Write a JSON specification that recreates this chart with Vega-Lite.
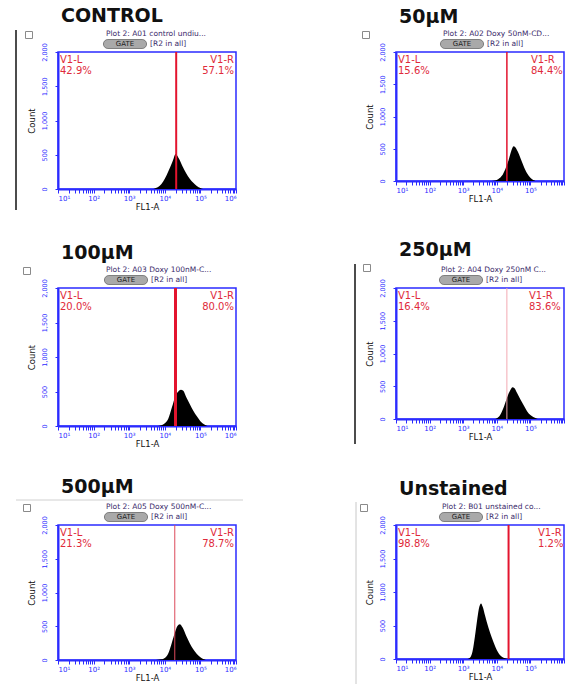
{
  "$schema": "https://vega.github.io/schema/vega-lite/v6.json",
  "padding": {"left": 14, "top": 6, "right": 0, "bottom": 0},
  "background": "white",
  "columns": 2,
  "bounds": "flush",
  "spacing": {"row": 99, "column": 160},
  "datasets": {
    "hist": [
      {"sample": "CONTROL", "fl1": 4467, "count": 0},
      {"sample": "CONTROL", "fl1": 5012, "count": 5},
      {"sample": "CONTROL", "fl1": 6310, "count": 25},
      {"sample": "CONTROL", "fl1": 7943, "count": 70},
      {"sample": "CONTROL", "fl1": 10000, "count": 150},
      {"sample": "CONTROL", "fl1": 12589, "count": 260},
      {"sample": "CONTROL", "fl1": 15849, "count": 380},
      {"sample": "CONTROL", "fl1": 17783, "count": 450},
      {"sample": "CONTROL", "fl1": 19953, "count": 510},
      {"sample": "CONTROL", "fl1": 21380, "count": 500},
      {"sample": "CONTROL", "fl1": 25119, "count": 440},
      {"sample": "CONTROL", "fl1": 31623, "count": 330},
      {"sample": "CONTROL", "fl1": 39811, "count": 230},
      {"sample": "CONTROL", "fl1": 50119, "count": 150},
      {"sample": "CONTROL", "fl1": 63096, "count": 90},
      {"sample": "CONTROL", "fl1": 79433, "count": 45},
      {"sample": "CONTROL", "fl1": 100000, "count": 15},
      {"sample": "CONTROL", "fl1": 112202, "count": 5},
      {"sample": "CONTROL", "fl1": 125893, "count": 0},
      {"sample": "50µM", "fl1": 7079, "count": 0},
      {"sample": "50µM", "fl1": 8913, "count": 8},
      {"sample": "50µM", "fl1": 11220, "count": 30},
      {"sample": "50µM", "fl1": 14125, "count": 80},
      {"sample": "50µM", "fl1": 17783, "count": 180},
      {"sample": "50µM", "fl1": 22387, "count": 320},
      {"sample": "50µM", "fl1": 26303, "count": 450},
      {"sample": "50µM", "fl1": 31623, "count": 540},
      {"sample": "50µM", "fl1": 35481, "count": 525},
      {"sample": "50µM", "fl1": 41687, "count": 460},
      {"sample": "50µM", "fl1": 50119, "count": 360},
      {"sample": "50µM", "fl1": 63096, "count": 230},
      {"sample": "50µM", "fl1": 79433, "count": 120},
      {"sample": "50µM", "fl1": 100000, "count": 50},
      {"sample": "50µM", "fl1": 125893, "count": 10},
      {"sample": "50µM", "fl1": 141254, "count": 0},
      {"sample": "100µM", "fl1": 6310, "count": 0},
      {"sample": "100µM", "fl1": 7943, "count": 10},
      {"sample": "100µM", "fl1": 10000, "count": 40},
      {"sample": "100µM", "fl1": 12589, "count": 110},
      {"sample": "100µM", "fl1": 15849, "count": 270},
      {"sample": "100µM", "fl1": 19953, "count": 440},
      {"sample": "100µM", "fl1": 23988, "count": 500},
      {"sample": "100µM", "fl1": 28184, "count": 525},
      {"sample": "100µM", "fl1": 33113, "count": 510},
      {"sample": "100µM", "fl1": 39811, "count": 420},
      {"sample": "100µM", "fl1": 50119, "count": 320},
      {"sample": "100µM", "fl1": 63096, "count": 220},
      {"sample": "100µM", "fl1": 79433, "count": 140},
      {"sample": "100µM", "fl1": 100000, "count": 70},
      {"sample": "100µM", "fl1": 125893, "count": 25},
      {"sample": "100µM", "fl1": 158489, "count": 0},
      {"sample": "250µM", "fl1": 8913, "count": 0},
      {"sample": "250µM", "fl1": 10000, "count": 10},
      {"sample": "250µM", "fl1": 12589, "count": 60},
      {"sample": "250µM", "fl1": 15849, "count": 170},
      {"sample": "250µM", "fl1": 19953, "count": 320},
      {"sample": "250µM", "fl1": 25119, "count": 440},
      {"sample": "250µM", "fl1": 29512, "count": 485},
      {"sample": "250µM", "fl1": 33113, "count": 475},
      {"sample": "250µM", "fl1": 39811, "count": 400},
      {"sample": "250µM", "fl1": 50119, "count": 300},
      {"sample": "250µM", "fl1": 63096, "count": 210},
      {"sample": "250µM", "fl1": 79433, "count": 120},
      {"sample": "250µM", "fl1": 100000, "count": 60},
      {"sample": "250µM", "fl1": 125893, "count": 25},
      {"sample": "250µM", "fl1": 158489, "count": 5},
      {"sample": "250µM", "fl1": 177828, "count": 0},
      {"sample": "500µM", "fl1": 5012, "count": 0},
      {"sample": "500µM", "fl1": 6310, "count": 5},
      {"sample": "500µM", "fl1": 7943, "count": 10},
      {"sample": "500µM", "fl1": 10000, "count": 30},
      {"sample": "500µM", "fl1": 12589, "count": 100},
      {"sample": "500µM", "fl1": 15849, "count": 260},
      {"sample": "500µM", "fl1": 19055, "count": 400},
      {"sample": "500µM", "fl1": 22387, "count": 500},
      {"sample": "500µM", "fl1": 26303, "count": 530},
      {"sample": "500µM", "fl1": 31623, "count": 480},
      {"sample": "500µM", "fl1": 39811, "count": 360},
      {"sample": "500µM", "fl1": 50119, "count": 250},
      {"sample": "500µM", "fl1": 63096, "count": 160},
      {"sample": "500µM", "fl1": 79433, "count": 90},
      {"sample": "500µM", "fl1": 100000, "count": 40},
      {"sample": "500µM", "fl1": 125893, "count": 10},
      {"sample": "500µM", "fl1": 141254, "count": 0},
      {"sample": "Unstained", "fl1": 1259, "count": 0},
      {"sample": "Unstained", "fl1": 1585, "count": 20},
      {"sample": "Unstained", "fl1": 1905, "count": 120},
      {"sample": "Unstained", "fl1": 2239, "count": 340},
      {"sample": "Unstained", "fl1": 2630, "count": 600},
      {"sample": "Unstained", "fl1": 3020, "count": 780},
      {"sample": "Unstained", "fl1": 3388, "count": 830},
      {"sample": "Unstained", "fl1": 3802, "count": 780},
      {"sample": "Unstained", "fl1": 4467, "count": 650},
      {"sample": "Unstained", "fl1": 5623, "count": 470},
      {"sample": "Unstained", "fl1": 7079, "count": 320},
      {"sample": "Unstained", "fl1": 8913, "count": 190},
      {"sample": "Unstained", "fl1": 11220, "count": 90},
      {"sample": "Unstained", "fl1": 14125, "count": 35},
      {"sample": "Unstained", "fl1": 17783, "count": 12},
      {"sample": "Unstained", "fl1": 22387, "count": 3},
      {"sample": "Unstained", "fl1": 25119, "count": 0}
    ],
    "gates": [
      {"sample": "CONTROL", "gate": 20893, "plot_name": "Plot 2: A01 control undiu...", "gate_name": "GATE", "region": "[R2 in all]", "left_text": ["V1-L", "42.9%"], "right_text": ["V1-R", "57.1%"]},
      {"sample": "50µM", "gate": 19953, "plot_name": "Plot 2: A02 Doxy 50nM-CD...", "gate_name": "GATE", "region": "[R2 in all]", "left_text": ["V1-L", "15.6%"], "right_text": ["V1-R", "84.4%"]},
      {"sample": "100µM", "gate": 19953, "plot_name": "Plot 2: A03 Doxy 100nM-C...", "gate_name": "GATE", "region": "[R2 in all]", "left_text": ["V1-L", "20.0%"], "right_text": ["V1-R", "80.0%"]},
      {"sample": "250µM", "gate": 19953, "plot_name": "Plot 2: A04 Doxy 250nM C...", "gate_name": "GATE", "region": "[R2 in all]", "left_text": ["V1-L", "16.4%"], "right_text": ["V1-R", "83.6%"]},
      {"sample": "500µM", "gate": 19055, "plot_name": "Plot 2: A05 Doxy 500nM-C...", "gate_name": "GATE", "region": "[R2 in all]", "left_text": ["V1-L", "21.3%"], "right_text": ["V1-R", "78.7%"]},
      {"sample": "Unstained", "gate": 22387, "plot_name": "Plot 2: B01 unstained co...", "gate_name": "GATE", "region": "[R2 in all]", "left_text": ["V1-L", "98.8%"], "right_text": ["V1-R", "1.2%"]}
    ]
  },
  "config": {
    "font": "DejaVu Sans",
    "view": {"stroke": "#2b2bff", "strokeWidth": 1.5},
    "axis": {"domainColor": "#2b2bff", "domainWidth": 2, "tickColor": "#2b2bff", "tickWidth": 1, "labelColor": "#2b2bff", "labelFont": "DejaVu Sans", "labelFontSize": 6.5, "titleFont": "DejaVu Sans", "titleFontSize": 8.5, "titleFontWeight": "normal", "titleColor": "#111111", "grid": false, "labelOverlap": false},
    "title": {"anchor": "start", "frame": "group", "font": "DejaVu Sans", "fontSize": 19, "fontWeight": "bold", "color": "#111111", "dx": 3, "offset": 3, "baseline": "alphabetic"}
  },
  "concat": [
    {
      "width": 178, "height": 137,
      "title": "CONTROL",
      "data": {"name": "gates"},
      "transform": [{"filter": "datum.sample === 'CONTROL'"}],
      "layer": [
        {"data": {"name": "hist"}, "transform": [{"filter": "datum.sample === 'CONTROL'"}],
         "mark": {"type": "area", "color": "#000000", "interpolate": "monotone"},
         "encoding": {
           "x": {"field": "fl1", "type": "quantitative", "scale": {"type": "log", "domain": [10, 1000000]}, "title": "FL1-A",
                 "axis": {"values": [10,20,30,40,50,60,70,80,90,100,200,300,400,500,600,700,800,900,1000,2000,3000,4000,5000,6000,7000,8000,9000,10000,20000,30000,40000,50000,60000,70000,80000,90000,100000,200000,300000,400000,500000,600000,700000,800000,900000,1000000],
                          "labelExpr": "datum.value == 10 ? '10¹' : datum.value == 100 ? '10²' : datum.value == 1000 ? '10³' : datum.value == 10000 ? '10⁴' : datum.value == 100000 ? '10⁵' : datum.value == 1000000 ? '10⁶' : ''",
                          "tickSize": 4, "labelPadding": 1, "titlePadding": 1, "labelFontSize": 7}},
           "y": {"field": "count", "type": "quantitative", "scale": {"domain": [0, 2000]}, "title": "Count",
                 "axis": {"values": [0, 500, 1000, 1500, 2000], "tickCount": 10, "format": ",d", "labelAngle": -90, "labelOverlap": false, "tickSize": 3, "labelPadding": 8, "titlePadding": 5}}
         }},
        {"mark": {"type": "rule", "color": "#e3142e", "strokeWidth": 2},
         "encoding": {"x": {"field": "gate", "type": "quantitative"}}},
        {"mark": {"type": "text", "align": "left", "baseline": "top", "dx": 2, "dy": 3, "color": "#e02a3a", "fontSize": 10, "lineHeight": 10.5},
         "encoding": {"x": {"datum": 10, "type": "quantitative"}, "y": {"datum": 2000, "type": "quantitative"}, "text": {"field": "left_text"}}},
        {"mark": {"type": "text", "align": "right", "baseline": "top", "dx": -2, "dy": 3, "color": "#e02a3a", "fontSize": 10, "lineHeight": 10.5},
         "encoding": {"x": {"datum": 1000000, "type": "quantitative"}, "y": {"datum": 2000, "type": "quantitative"}, "text": {"field": "right_text"}}},
        {"mark": {"type": "text", "align": "left", "baseline": "middle", "dx": 48, "dy": -18, "color": "#3a2a6a", "fontSize": 7.5},
         "encoding": {"x": {"datum": 10, "type": "quantitative"}, "y": {"datum": 2000, "type": "quantitative"}, "text": {"field": "plot_name"}}},
        {"mark": {"type": "point", "shape": "M -1.9 -0.5 L 1.9 -0.5 A 0.5 0.5 0 0 1 1.9 0.5 L -1.9 0.5 A 0.5 0.5 0 0 1 -1.9 -0.5 Z", "filled": true, "fill": "#a9a9a9", "stroke": "#6a6a6a", "strokeWidth": 0.8, "size": 324, "opacity": 1, "xOffset": 67, "yOffset": -8},
         "encoding": {"x": {"datum": 10, "type": "quantitative"}, "y": {"datum": 2000, "type": "quantitative"}}},
        {"mark": {"type": "text", "align": "center", "baseline": "middle", "dx": 67, "dy": -8, "color": "#222222", "fontSize": 7},
         "encoding": {"x": {"datum": 10, "type": "quantitative"}, "y": {"datum": 2000, "type": "quantitative"}, "text": {"field": "gate_name"}}},
        {"mark": {"type": "text", "align": "left", "baseline": "middle", "dx": 92, "dy": -8, "color": "#3a2a6a", "fontSize": 7.5},
         "encoding": {"x": {"datum": 10, "type": "quantitative"}, "y": {"datum": 2000, "type": "quantitative"}, "text": {"field": "region"}}},
        {"mark": {"type": "point", "shape": "square", "filled": false, "stroke": "#8a8a8a", "strokeWidth": 1, "size": 49, "opacity": 1, "xOffset": -29, "yOffset": -17},
         "encoding": {"x": {"datum": 10, "type": "quantitative"}, "y": {"datum": 2000, "type": "quantitative"}}},
        {"mark": {"type": "rule", "color": "#111111", "strokeWidth": 1.5, "xOffset": -42, "yOffset": -22, "y2Offset": 21},
         "encoding": {"x": {"datum": 10, "type": "quantitative"}, "y": {"datum": 2000, "type": "quantitative"}, "y2": {"datum": 0}}}
      ]
    },
    {
      "width": 168, "height": 129,
      "title": "50µM",
      "data": {"name": "gates"},
      "transform": [{"filter": "datum.sample === '50µM'"}],
      "layer": [
        {"data": {"name": "hist"}, "transform": [{"filter": "datum.sample === '50µM'"}],
         "mark": {"type": "area", "color": "#000000", "interpolate": "monotone"},
         "encoding": {
           "x": {"field": "fl1", "type": "quantitative", "scale": {"type": "log", "domain": [10, 1000000]}, "title": "FL1-A",
                 "axis": {"values": [10,20,30,40,50,60,70,80,90,100,200,300,400,500,600,700,800,900,1000,2000,3000,4000,5000,6000,7000,8000,9000,10000,20000,30000,40000,50000,60000,70000,80000,90000,100000,200000,300000,400000,500000,600000,700000,800000,900000,1000000],
                          "labelExpr": "datum.value == 10 ? '10¹' : datum.value == 100 ? '10²' : datum.value == 1000 ? '10³' : datum.value == 10000 ? '10⁴' : datum.value == 100000 ? '10⁵' : ''",
                          "tickSize": 4, "labelPadding": 1, "titlePadding": 1, "labelFontSize": 7}},
           "y": {"field": "count", "type": "quantitative", "scale": {"domain": [0, 2000]}, "title": "Count",
                 "axis": {"values": [0, 500, 1000, 1500, 2000], "tickCount": 10, "format": ",d", "labelAngle": -90, "labelOverlap": false, "tickSize": 3, "labelPadding": 8, "titlePadding": 5}}
         }},
        {"mark": {"type": "rule", "color": "#e3142e", "strokeWidth": 1.5},
         "encoding": {"x": {"field": "gate", "type": "quantitative"}}},
        {"mark": {"type": "text", "align": "left", "baseline": "top", "dx": 2, "dy": 3, "color": "#e02a3a", "fontSize": 10, "lineHeight": 10.5},
         "encoding": {"x": {"datum": 10, "type": "quantitative"}, "y": {"datum": 2000, "type": "quantitative"}, "text": {"field": "left_text"}}},
        {"mark": {"type": "text", "align": "left", "baseline": "top", "dx": -33, "dy": 3, "color": "#e02a3a", "fontSize": 10, "lineHeight": 10.5},
         "encoding": {"x": {"datum": 1000000, "type": "quantitative"}, "y": {"datum": 2000, "type": "quantitative"}, "text": {"field": "right_text"}}},
        {"mark": {"type": "text", "align": "left", "baseline": "middle", "dx": 47, "dy": -18, "color": "#3a2a6a", "fontSize": 7.5},
         "encoding": {"x": {"datum": 10, "type": "quantitative"}, "y": {"datum": 2000, "type": "quantitative"}, "text": {"field": "plot_name"}}},
        {"mark": {"type": "point", "shape": "M -1.9 -0.5 L 1.9 -0.5 A 0.5 0.5 0 0 1 1.9 0.5 L -1.9 0.5 A 0.5 0.5 0 0 1 -1.9 -0.5 Z", "filled": true, "fill": "#a9a9a9", "stroke": "#6a6a6a", "strokeWidth": 0.8, "size": 324, "opacity": 1, "xOffset": 66, "yOffset": -8},
         "encoding": {"x": {"datum": 10, "type": "quantitative"}, "y": {"datum": 2000, "type": "quantitative"}}},
        {"mark": {"type": "text", "align": "center", "baseline": "middle", "dx": 66, "dy": -8, "color": "#222222", "fontSize": 7},
         "encoding": {"x": {"datum": 10, "type": "quantitative"}, "y": {"datum": 2000, "type": "quantitative"}, "text": {"field": "gate_name"}}},
        {"mark": {"type": "text", "align": "left", "baseline": "middle", "dx": 91, "dy": -8, "color": "#3a2a6a", "fontSize": 7.5},
         "encoding": {"x": {"datum": 10, "type": "quantitative"}, "y": {"datum": 2000, "type": "quantitative"}, "text": {"field": "region"}}},
        {"mark": {"type": "point", "shape": "square", "filled": false, "stroke": "#8a8a8a", "strokeWidth": 1, "size": 49, "opacity": 1, "xOffset": -30, "yOffset": -17},
         "encoding": {"x": {"datum": 10, "type": "quantitative"}, "y": {"datum": 2000, "type": "quantitative"}}}
      ]
    },
    {
      "width": 178, "height": 138,
      "title": "100µM",
      "data": {"name": "gates"},
      "transform": [{"filter": "datum.sample === '100µM'"}],
      "layer": [
        {"data": {"name": "hist"}, "transform": [{"filter": "datum.sample === '100µM'"}],
         "mark": {"type": "area", "color": "#000000", "interpolate": "monotone"},
         "encoding": {
           "x": {"field": "fl1", "type": "quantitative", "scale": {"type": "log", "domain": [10, 1000000]}, "title": "FL1-A",
                 "axis": {"values": [10,20,30,40,50,60,70,80,90,100,200,300,400,500,600,700,800,900,1000,2000,3000,4000,5000,6000,7000,8000,9000,10000,20000,30000,40000,50000,60000,70000,80000,90000,100000,200000,300000,400000,500000,600000,700000,800000,900000,1000000],
                          "labelExpr": "datum.value == 10 ? '10¹' : datum.value == 100 ? '10²' : datum.value == 1000 ? '10³' : datum.value == 10000 ? '10⁴' : datum.value == 100000 ? '10⁵' : datum.value == 1000000 ? '10⁶' : ''",
                          "tickSize": 4, "labelPadding": 1, "titlePadding": 1, "labelFontSize": 7}},
           "y": {"field": "count", "type": "quantitative", "scale": {"domain": [0, 2000]}, "title": "Count",
                 "axis": {"values": [0, 500, 1000, 1500, 2000], "tickCount": 10, "format": ",d", "labelAngle": -90, "labelOverlap": false, "tickSize": 3, "labelPadding": 8, "titlePadding": 5}}
         }},
        {"mark": {"type": "rule", "color": "#e3142e", "strokeWidth": 3},
         "encoding": {"x": {"field": "gate", "type": "quantitative"}}},
        {"mark": {"type": "text", "align": "left", "baseline": "top", "dx": 2, "dy": 3, "color": "#e02a3a", "fontSize": 10, "lineHeight": 10.5},
         "encoding": {"x": {"datum": 10, "type": "quantitative"}, "y": {"datum": 2000, "type": "quantitative"}, "text": {"field": "left_text"}}},
        {"mark": {"type": "text", "align": "right", "baseline": "top", "dx": -2, "dy": 3, "color": "#e02a3a", "fontSize": 10, "lineHeight": 10.5},
         "encoding": {"x": {"datum": 1000000, "type": "quantitative"}, "y": {"datum": 2000, "type": "quantitative"}, "text": {"field": "right_text"}}},
        {"mark": {"type": "text", "align": "left", "baseline": "middle", "dx": 48, "dy": -18, "color": "#3a2a6a", "fontSize": 7.5},
         "encoding": {"x": {"datum": 10, "type": "quantitative"}, "y": {"datum": 2000, "type": "quantitative"}, "text": {"field": "plot_name"}}},
        {"mark": {"type": "point", "shape": "M -1.9 -0.5 L 1.9 -0.5 A 0.5 0.5 0 0 1 1.9 0.5 L -1.9 0.5 A 0.5 0.5 0 0 1 -1.9 -0.5 Z", "filled": true, "fill": "#a9a9a9", "stroke": "#6a6a6a", "strokeWidth": 0.8, "size": 324, "opacity": 1, "xOffset": 68, "yOffset": -8},
         "encoding": {"x": {"datum": 10, "type": "quantitative"}, "y": {"datum": 2000, "type": "quantitative"}}},
        {"mark": {"type": "text", "align": "center", "baseline": "middle", "dx": 68, "dy": -8, "color": "#222222", "fontSize": 7},
         "encoding": {"x": {"datum": 10, "type": "quantitative"}, "y": {"datum": 2000, "type": "quantitative"}, "text": {"field": "gate_name"}}},
        {"mark": {"type": "text", "align": "left", "baseline": "middle", "dx": 93, "dy": -8, "color": "#3a2a6a", "fontSize": 7.5},
         "encoding": {"x": {"datum": 10, "type": "quantitative"}, "y": {"datum": 2000, "type": "quantitative"}, "text": {"field": "region"}}},
        {"mark": {"type": "point", "shape": "square", "filled": false, "stroke": "#8a8a8a", "strokeWidth": 1, "size": 49, "opacity": 1, "xOffset": -31, "yOffset": -17},
         "encoding": {"x": {"datum": 10, "type": "quantitative"}, "y": {"datum": 2000, "type": "quantitative"}}}
      ]
    },
    {
      "width": 168, "height": 131,
      "title": "250µM",
      "data": {"name": "gates"},
      "transform": [{"filter": "datum.sample === '250µM'"}],
      "layer": [
        {"data": {"name": "hist"}, "transform": [{"filter": "datum.sample === '250µM'"}],
         "mark": {"type": "area", "color": "#000000", "interpolate": "monotone"},
         "encoding": {
           "x": {"field": "fl1", "type": "quantitative", "scale": {"type": "log", "domain": [10, 1000000]}, "title": "FL1-A",
                 "axis": {"values": [10,20,30,40,50,60,70,80,90,100,200,300,400,500,600,700,800,900,1000,2000,3000,4000,5000,6000,7000,8000,9000,10000,20000,30000,40000,50000,60000,70000,80000,90000,100000,200000,300000,400000,500000,600000,700000,800000,900000,1000000],
                          "labelExpr": "datum.value == 10 ? '10¹' : datum.value == 100 ? '10²' : datum.value == 1000 ? '10³' : datum.value == 10000 ? '10⁴' : datum.value == 100000 ? '10⁵' : ''",
                          "tickSize": 4, "labelPadding": 1, "titlePadding": 1, "labelFontSize": 7}},
           "y": {"field": "count", "type": "quantitative", "scale": {"domain": [0, 2000]}, "title": "Count",
                 "axis": {"values": [0, 500, 1000, 1500, 2000], "tickCount": 10, "format": ",d", "labelAngle": -90, "labelOverlap": false, "tickSize": 3, "labelPadding": 8, "titlePadding": 5}}
         }},
        {"mark": {"type": "rule", "color": "#f3a9b3", "strokeWidth": 1},
         "encoding": {"x": {"field": "gate", "type": "quantitative"}}},
        {"mark": {"type": "text", "align": "left", "baseline": "top", "dx": 2, "dy": 3, "color": "#e02a3a", "fontSize": 10, "lineHeight": 10.5},
         "encoding": {"x": {"datum": 10, "type": "quantitative"}, "y": {"datum": 2000, "type": "quantitative"}, "text": {"field": "left_text"}}},
        {"mark": {"type": "text", "align": "left", "baseline": "top", "dx": -35, "dy": 3, "color": "#e02a3a", "fontSize": 10, "lineHeight": 10.5},
         "encoding": {"x": {"datum": 1000000, "type": "quantitative"}, "y": {"datum": 2000, "type": "quantitative"}, "text": {"field": "right_text"}}},
        {"mark": {"type": "text", "align": "left", "baseline": "middle", "dx": 45, "dy": -18, "color": "#3a2a6a", "fontSize": 7.5},
         "encoding": {"x": {"datum": 10, "type": "quantitative"}, "y": {"datum": 2000, "type": "quantitative"}, "text": {"field": "plot_name"}}},
        {"mark": {"type": "point", "shape": "M -1.9 -0.5 L 1.9 -0.5 A 0.5 0.5 0 0 1 1.9 0.5 L -1.9 0.5 A 0.5 0.5 0 0 1 -1.9 -0.5 Z", "filled": true, "fill": "#a9a9a9", "stroke": "#6a6a6a", "strokeWidth": 0.8, "size": 324, "opacity": 1, "xOffset": 65, "yOffset": -8},
         "encoding": {"x": {"datum": 10, "type": "quantitative"}, "y": {"datum": 2000, "type": "quantitative"}}},
        {"mark": {"type": "text", "align": "center", "baseline": "middle", "dx": 65, "dy": -8, "color": "#222222", "fontSize": 7},
         "encoding": {"x": {"datum": 10, "type": "quantitative"}, "y": {"datum": 2000, "type": "quantitative"}, "text": {"field": "gate_name"}}},
        {"mark": {"type": "text", "align": "left", "baseline": "middle", "dx": 90, "dy": -8, "color": "#3a2a6a", "fontSize": 7.5},
         "encoding": {"x": {"datum": 10, "type": "quantitative"}, "y": {"datum": 2000, "type": "quantitative"}, "text": {"field": "region"}}},
        {"mark": {"type": "point", "shape": "square", "filled": false, "stroke": "#8a8a8a", "strokeWidth": 1, "size": 49, "opacity": 1, "xOffset": -29, "yOffset": -20},
         "encoding": {"x": {"datum": 10, "type": "quantitative"}, "y": {"datum": 2000, "type": "quantitative"}}},
        {"mark": {"type": "rule", "color": "#111111", "strokeWidth": 1.5, "xOffset": -41, "yOffset": -24, "y2Offset": 25},
         "encoding": {"x": {"datum": 10, "type": "quantitative"}, "y": {"datum": 2000, "type": "quantitative"}, "y2": {"datum": 0}}}
      ]
    },
    {
      "width": 178, "height": 135,
      "title": "500µM",
      "data": {"name": "gates"},
      "transform": [{"filter": "datum.sample === '500µM'"}],
      "layer": [
        {"data": {"name": "hist"}, "transform": [{"filter": "datum.sample === '500µM'"}],
         "mark": {"type": "area", "color": "#000000", "interpolate": "monotone"},
         "encoding": {
           "x": {"field": "fl1", "type": "quantitative", "scale": {"type": "log", "domain": [10, 1000000]}, "title": "FL1-A",
                 "axis": {"values": [10,20,30,40,50,60,70,80,90,100,200,300,400,500,600,700,800,900,1000,2000,3000,4000,5000,6000,7000,8000,9000,10000,20000,30000,40000,50000,60000,70000,80000,90000,100000,200000,300000,400000,500000,600000,700000,800000,900000,1000000],
                          "labelExpr": "datum.value == 10 ? '10¹' : datum.value == 100 ? '10²' : datum.value == 1000 ? '10³' : datum.value == 10000 ? '10⁴' : datum.value == 100000 ? '10⁵' : datum.value == 1000000 ? '10⁶' : ''",
                          "tickSize": 4, "labelPadding": 1, "titlePadding": 1, "labelFontSize": 7}},
           "y": {"field": "count", "type": "quantitative", "scale": {"domain": [0, 2000]}, "title": "Count",
                 "axis": {"values": [0, 500, 1000, 1500, 2000], "tickCount": 10, "format": ",d", "labelAngle": -90, "labelOverlap": false, "tickSize": 3, "labelPadding": 8, "titlePadding": 5}}
         }},
        {"mark": {"type": "rule", "color": "#dc4a5a", "strokeWidth": 1},
         "encoding": {"x": {"field": "gate", "type": "quantitative"}}},
        {"mark": {"type": "text", "align": "left", "baseline": "top", "dx": 2, "dy": 3, "color": "#e02a3a", "fontSize": 10, "lineHeight": 10.5},
         "encoding": {"x": {"datum": 10, "type": "quantitative"}, "y": {"datum": 2000, "type": "quantitative"}, "text": {"field": "left_text"}}},
        {"mark": {"type": "text", "align": "right", "baseline": "top", "dx": -2, "dy": 3, "color": "#e02a3a", "fontSize": 10, "lineHeight": 10.5},
         "encoding": {"x": {"datum": 1000000, "type": "quantitative"}, "y": {"datum": 2000, "type": "quantitative"}, "text": {"field": "right_text"}}},
        {"mark": {"type": "text", "align": "left", "baseline": "middle", "dx": 48, "dy": -18, "color": "#3a2a6a", "fontSize": 7.5},
         "encoding": {"x": {"datum": 10, "type": "quantitative"}, "y": {"datum": 2000, "type": "quantitative"}, "text": {"field": "plot_name"}}},
        {"mark": {"type": "point", "shape": "M -1.9 -0.5 L 1.9 -0.5 A 0.5 0.5 0 0 1 1.9 0.5 L -1.9 0.5 A 0.5 0.5 0 0 1 -1.9 -0.5 Z", "filled": true, "fill": "#a9a9a9", "stroke": "#6a6a6a", "strokeWidth": 0.8, "size": 324, "opacity": 1, "xOffset": 68, "yOffset": -8},
         "encoding": {"x": {"datum": 10, "type": "quantitative"}, "y": {"datum": 2000, "type": "quantitative"}}},
        {"mark": {"type": "text", "align": "center", "baseline": "middle", "dx": 68, "dy": -8, "color": "#222222", "fontSize": 7},
         "encoding": {"x": {"datum": 10, "type": "quantitative"}, "y": {"datum": 2000, "type": "quantitative"}, "text": {"field": "gate_name"}}},
        {"mark": {"type": "text", "align": "left", "baseline": "middle", "dx": 93, "dy": -8, "color": "#3a2a6a", "fontSize": 7.5},
         "encoding": {"x": {"datum": 10, "type": "quantitative"}, "y": {"datum": 2000, "type": "quantitative"}, "text": {"field": "region"}}},
        {"mark": {"type": "point", "shape": "square", "filled": false, "stroke": "#8a8a8a", "strokeWidth": 1, "size": 49, "opacity": 1, "xOffset": -31, "yOffset": -17},
         "encoding": {"x": {"datum": 10, "type": "quantitative"}, "y": {"datum": 2000, "type": "quantitative"}}},
        {"mark": {"type": "rule", "color": "#d0d0d0", "strokeWidth": 1, "xOffset": -42, "x2Offset": 185, "yOffset": -25},
         "encoding": {"x": {"datum": 10, "type": "quantitative"}, "x2": {"datum": 10}, "y": {"datum": 2000, "type": "quantitative"}}}
      ]
    },
    {
      "width": 168, "height": 134,
      "title": "Unstained",
      "data": {"name": "gates"},
      "transform": [{"filter": "datum.sample === 'Unstained'"}],
      "layer": [
        {"data": {"name": "hist"}, "transform": [{"filter": "datum.sample === 'Unstained'"}],
         "mark": {"type": "area", "color": "#000000", "interpolate": "monotone"},
         "encoding": {
           "x": {"field": "fl1", "type": "quantitative", "scale": {"type": "log", "domain": [10, 1000000]}, "title": "FL1-A",
                 "axis": {"values": [10,20,30,40,50,60,70,80,90,100,200,300,400,500,600,700,800,900,1000,2000,3000,4000,5000,6000,7000,8000,9000,10000,20000,30000,40000,50000,60000,70000,80000,90000,100000,200000,300000,400000,500000,600000,700000,800000,900000,1000000],
                          "labelExpr": "datum.value == 10 ? '10¹' : datum.value == 100 ? '10²' : datum.value == 1000 ? '10³' : datum.value == 10000 ? '10⁴' : datum.value == 100000 ? '10⁵' : ''",
                          "tickSize": 4, "labelPadding": 1, "titlePadding": 1, "labelFontSize": 7}},
           "y": {"field": "count", "type": "quantitative", "scale": {"domain": [0, 2000]}, "title": "Count",
                 "axis": {"values": [0, 500, 1000, 1500, 2000], "tickCount": 10, "format": ",d", "labelAngle": -90, "labelOverlap": false, "tickSize": 3, "labelPadding": 8, "titlePadding": 5}}
         }},
        {"mark": {"type": "rule", "color": "#e3142e", "strokeWidth": 2},
         "encoding": {"x": {"field": "gate", "type": "quantitative"}}},
        {"mark": {"type": "text", "align": "left", "baseline": "top", "dx": 2, "dy": 3, "color": "#e02a3a", "fontSize": 10, "lineHeight": 10.5},
         "encoding": {"x": {"datum": 10, "type": "quantitative"}, "y": {"datum": 2000, "type": "quantitative"}, "text": {"field": "left_text"}}},
        {"mark": {"type": "text", "align": "left", "baseline": "top", "dx": -26, "dy": 3, "color": "#e02a3a", "fontSize": 10, "lineHeight": 10.5},
         "encoding": {"x": {"datum": 1000000, "type": "quantitative"}, "y": {"datum": 2000, "type": "quantitative"}, "text": {"field": "right_text"}}},
        {"mark": {"type": "text", "align": "left", "baseline": "middle", "dx": 46, "dy": -18, "color": "#3a2a6a", "fontSize": 7.5},
         "encoding": {"x": {"datum": 10, "type": "quantitative"}, "y": {"datum": 2000, "type": "quantitative"}, "text": {"field": "plot_name"}}},
        {"mark": {"type": "point", "shape": "M -1.9 -0.5 L 1.9 -0.5 A 0.5 0.5 0 0 1 1.9 0.5 L -1.9 0.5 A 0.5 0.5 0 0 1 -1.9 -0.5 Z", "filled": true, "fill": "#a9a9a9", "stroke": "#6a6a6a", "strokeWidth": 0.8, "size": 324, "opacity": 1, "xOffset": 65, "yOffset": -8},
         "encoding": {"x": {"datum": 10, "type": "quantitative"}, "y": {"datum": 2000, "type": "quantitative"}}},
        {"mark": {"type": "text", "align": "center", "baseline": "middle", "dx": 65, "dy": -8, "color": "#222222", "fontSize": 7},
         "encoding": {"x": {"datum": 10, "type": "quantitative"}, "y": {"datum": 2000, "type": "quantitative"}, "text": {"field": "gate_name"}}},
        {"mark": {"type": "text", "align": "left", "baseline": "middle", "dx": 90, "dy": -8, "color": "#3a2a6a", "fontSize": 7.5},
         "encoding": {"x": {"datum": 10, "type": "quantitative"}, "y": {"datum": 2000, "type": "quantitative"}, "text": {"field": "region"}}},
        {"mark": {"type": "point", "shape": "square", "filled": false, "stroke": "#8a8a8a", "strokeWidth": 1, "size": 49, "opacity": 1, "xOffset": -32, "yOffset": -17},
         "encoding": {"x": {"datum": 10, "type": "quantitative"}, "y": {"datum": 2000, "type": "quantitative"}}},
        {"mark": {"type": "rule", "color": "#c8c8c8", "strokeWidth": 1, "xOffset": -40, "yOffset": -23, "y2Offset": 30},
         "encoding": {"x": {"datum": 10, "type": "quantitative"}, "y": {"datum": 2000, "type": "quantitative"}, "y2": {"datum": 0}}}
      ]
    }
  ]
}
